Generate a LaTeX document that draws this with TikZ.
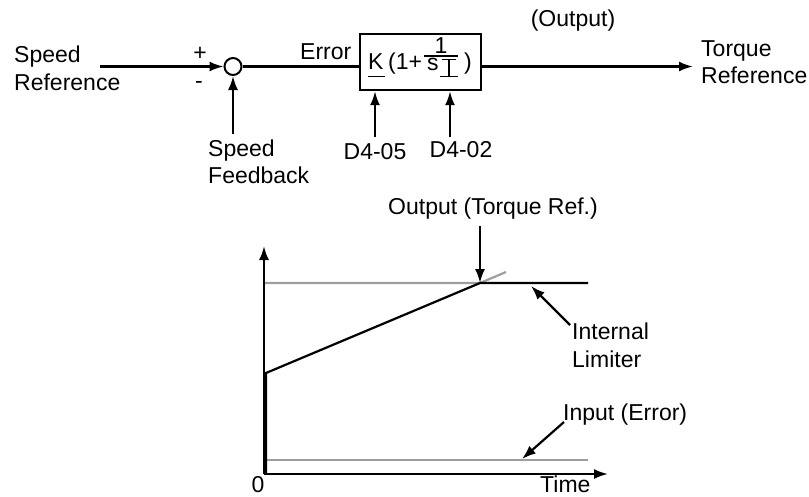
\documentclass[tikz,border=0pt]{standalone}
\usepackage{fontspec}
\setmainfont{Liberation Sans}
\usetikzlibrary{arrows.meta}
\begin{document}
\begin{tikzpicture}[x=1pt,y=-1pt,
  every node/.style={font=\fontsize{23}{27}\selectfont, inner sep=0pt},
  ln/.style={line width=2.2pt},
  arr/.style={ln, -{Latex[length=14pt,width=10pt]}},
  gr/.style={line width=2.2pt, draw=black!38},
  lbl/.style={anchor=base west, align=left}]
\useasboundingbox (0,0) rectangle (809,496);
% top block diagram
\node[lbl] (sr1) at (14,62.5) {Speed};
\node[lbl] (sr2) at (14,90) {Reference};
\coordinate (srs) at (100,66.5);
\node[draw, circle, minimum size=17pt, line width=2pt] (sum) at (233,66.5) {};
\node[anchor=base] (plus) at (200,60) {+};
\node[anchor=base] (minus) at (199,88) {-};
\draw[arr] (srs) -- (sum.west);
\coordinate (fbs) at (233,134);
\draw[arr] (fbs) -- (sum.south);
\node[lbl] (sf1) at (208,156) {Speed};
\node[lbl] (sf2) at (208,183) {Feedback};
\node[draw, line width=2.4pt, minimum width=121pt, minimum height=56pt] (blk) at (420.5,62) {};
\draw[ln] (sum.east) -- (blk.west |- sum);
\node[lbl] (err) at (300,59) {Error};
\node[anchor=base west] (k) at (368,69.5) {K};
\draw[line width=1.4pt] (368,76.5) -- (385,76.5);
\node[anchor=base west] (par) at (388,69.5) {(1+};
\node[anchor=base] (one) at (441,53) {1};
\draw[line width=1.4pt] (424,56) -- (458,56);
\node[anchor=base west] (s) at (427,70) {s};
\draw[line width=1.6pt] (442,59.5) -- (456,59.5) (449,59.5) -- (449,76.5) (440,76.5) -- (458,76.5);
\node[anchor=base west] (rp) at (464,69.5) {)};
\coordinate (d5s) at (375,137);
\coordinate (d2s) at (450,137);
\draw[arr] (d5s) -- (d5s |- blk.south);
\draw[arr] (d2s) -- (d2s |- blk.south);
\node[anchor=base] (d5) at (375,159) {D4-05};
\node[anchor=base] (d2) at (461,157) {D4-02};
\coordinate (te) at (693,66.5);
\draw[arr] (blk.east |- te) -- (te);
\node[anchor=base] (out) at (573,26) {(Output)};
\node[lbl] (tr1) at (701,56) {Torque};
\node[lbl] (tr2) at (701,83) {Reference};
% bottom graph
\coordinate (o) at (264,474);
\coordinate (ytip) at (264,246);
\coordinate (xtip) at (608,474);
\draw[arr] (o) -- (ytip);
\draw[arr] (o) -- (xtip);
\coordinate (lim0) at (265,283);
\coordinate (knee) at (480,283);
\coordinate (lim1) at (588,283);
\coordinate (ext) at (506,272);
\coordinate (r0) at (266,373);
\coordinate (r00) at (266,474);
\coordinate (in0) at (265,460);
\coordinate (in1) at (588,460);
\draw[gr] (lim0) -- (knee) -- (ext);
\draw[gr] (in0) -- (in1);
\draw[ln] (r00) -- (r0) -- (knee) -- (lim1);
\node[anchor=base] (otr) at (493,214) {Output (Torque Ref.)};
\coordinate (otrs) at (480,226);
\draw[arr] (otrs) -- (knee);
\node[lbl] (il1) at (572,339) {Internal};
\node[lbl] (il2) at (572,367) {Limiter};
\coordinate (ils) at (570,325);
\coordinate (ile) at (531,286);
\draw[arr] (ils) -- (ile);
\node[lbl] (inp) at (563,420) {Input (Error)};
\coordinate (ins) at (564,422);
\coordinate (ine) at (522,459);
\draw[arr] (ins) -- (ine);
\node[anchor=base] (zero) at (258,492) {0};
\node[lbl] (time) at (540,492) {Time};
\end{tikzpicture}
\end{document}
